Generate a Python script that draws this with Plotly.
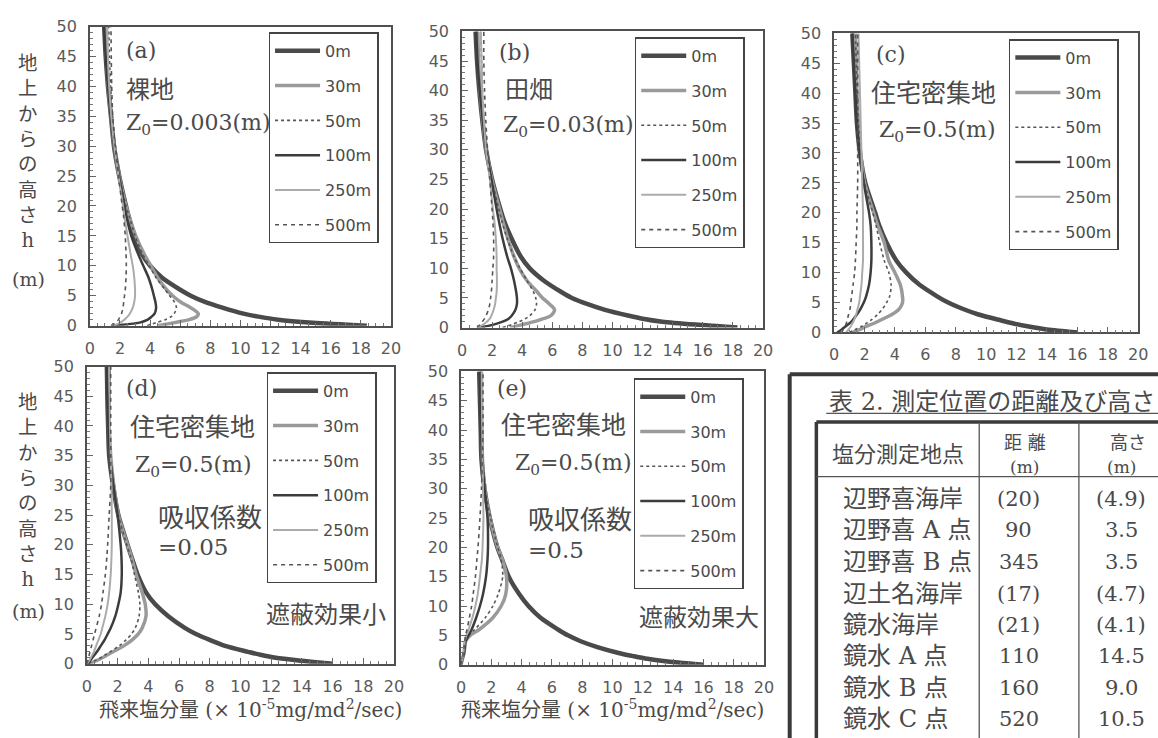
import plotly.graph_objects as go

# ---------------- data ----------------
H = [0, 0.5, 1, 1.5, 2, 3, 4, 5, 6, 8, 10, 12, 15, 18, 20, 25, 30, 35, 40, 45, 50]
DIST = ["0m", "30m", "50m", "100m", "250m", "500m"]
X_TICKS = [0, 2, 4, 6, 8, 10, 12, 14, 16, 18, 20]
Y_TICKS = [0, 5, 10, 15, 20, 25, 30, 35, 40, 45, 50]

# (a) bare land
A_0M = [18.4, 14.8, 12.5, 11.2, 10.2, 8.8, 7.6, 6.7, 6.0, 4.8, 4.0, 3.45, 2.95, 2.6, 2.4, 1.95, 1.6, 1.4, 1.2, 1.05, 0.95]
A_30M = [4.5, 5.6, 6.6, 7.1, 7.2, 6.7, 6.0, 5.5, 5.1, 4.5, 4.05, 3.6, 3.05, 2.65, 2.4, 1.95, 1.62, 1.4, 1.22, 1.1, 1.05]
A_50M = [3.8, 4.4, 5.0, 5.4, 5.6, 5.75, 5.6, 5.3, 5.0, 4.4, 3.95, 3.5, 3.0, 2.65, 2.4, 1.97, 1.7, 1.5, 1.38, 1.3, 1.25]
A_100M = [1.5, 3.3, 3.85, 4.1, 4.3, 4.4, 4.35, 4.25, 4.15, 3.9, 3.55, 3.2, 2.75, 2.45, 2.3, 1.93, 1.6, 1.38, 1.2, 1.05, 0.95]
A_250M = [1.6, 2.0, 2.3, 2.5, 2.65, 2.85, 2.95, 3.0, 3.0, 2.95, 2.85, 2.7, 2.5, 2.3, 2.2, 1.9, 1.62, 1.42, 1.28, 1.2, 1.15]
A_500M = [1.4, 1.7, 1.9, 2.0, 2.1, 2.2, 2.25, 2.3, 2.35, 2.4, 2.42, 2.4, 2.35, 2.25, 2.15, 1.9, 1.68, 1.52, 1.45, 1.42, 1.4]

# (b) farmland
B_0M = [18.3, 15.5, 13.3, 12.0, 11.1, 9.5, 8.3, 7.3, 6.6, 5.4, 4.5, 3.9, 3.3, 2.8, 2.55, 2.0, 1.6, 1.35, 1.15, 1.0, 0.9]
B_30M = [3.2, 4.0, 4.8, 5.4, 5.9, 6.15, 5.8, 5.35, 5.0, 4.3, 3.8, 3.45, 3.05, 2.7, 2.5, 1.98, 1.6, 1.38, 1.2, 1.1, 1.05]
B_50M = [2.7, 3.3, 3.8, 4.2, 4.5, 4.85, 4.95, 4.9, 4.75, 4.3, 3.85, 3.45, 3.0, 2.65, 2.45, 1.98, 1.65, 1.45, 1.35, 1.3, 1.25]
B_100M = [1.1, 2.1, 2.7, 3.1, 3.3, 3.55, 3.65, 3.65, 3.6, 3.45, 3.25, 3.0, 2.7, 2.45, 2.3, 1.95, 1.6, 1.38, 1.18, 1.03, 0.95]
B_250M = [1.0, 1.4, 1.65, 1.85, 1.95, 2.1, 2.2, 2.25, 2.3, 2.32, 2.3, 2.3, 2.25, 2.15, 2.05, 1.85, 1.6, 1.45, 1.35, 1.3, 1.25]
B_500M = [1.0, 1.2, 1.35, 1.5, 1.6, 1.75, 1.85, 1.9, 1.95, 2.0, 2.05, 2.1, 2.1, 2.05, 2.0, 1.85, 1.7, 1.58, 1.5, 1.45, 1.45]

# (c) dense residential
C_0M = [16.0, 14.0, 12.8, 11.8, 11.0, 9.5, 8.4, 7.5, 6.8, 5.6, 4.75, 4.1, 3.45, 2.95, 2.7, 2.05, 1.7, 1.5, 1.4, 1.3, 1.2]
C_30M = [1.2, 1.7, 2.1, 2.6, 3.0, 3.8, 4.3, 4.5, 4.5, 4.35, 4.0, 3.6, 3.3, 2.85, 2.6, 2.0, 1.75, 1.6, 1.5, 1.45, 1.4]
C_50M = [1.0, 1.4, 1.8, 2.1, 2.4, 2.85, 3.2, 3.45, 3.65, 3.75, 3.6, 3.3, 3.0, 2.75, 2.55, 2.0, 1.75, 1.6, 1.5, 1.45, 1.4]
C_100M = [0.2, 0.5, 0.75, 1.0, 1.2, 1.5, 1.75, 1.95, 2.1, 2.3, 2.4, 2.45, 2.45, 2.4, 2.3, 1.95, 1.68, 1.5, 1.4, 1.3, 1.2]
C_250M = [0.8, 0.95, 1.1, 1.2, 1.3, 1.45, 1.55, 1.65, 1.7, 1.8, 1.85, 1.9, 1.9, 1.9, 1.9, 1.85, 1.8, 1.75, 1.7, 1.65, 1.6]
C_500M = [0.5, 0.6, 0.7, 0.8, 0.85, 0.95, 1.05, 1.1, 1.15, 1.25, 1.35, 1.4, 1.45, 1.5, 1.5, 1.55, 1.55, 1.55, 1.55, 1.55, 1.55]

# (d) dense residential, absorption 0.05
D_0M = [16.0, 14.0, 12.3, 11.3, 10.5, 9.0, 8.0, 7.1, 6.4, 5.3, 4.45, 3.85, 3.3, 2.9, 2.65, 2.05, 1.7, 1.45, 1.38, 1.33, 1.3]
D_30M = [0.1, 0.6, 1.0, 1.35, 1.7, 2.4, 2.95, 3.35, 3.6, 3.85, 3.8, 3.6, 3.2, 2.9, 2.65, 2.05, 1.75, 1.55, 1.45, 1.45, 1.45]
D_50M = [0.1, 0.5, 0.9, 1.2, 1.5, 2.1, 2.55, 2.9, 3.15, 3.4, 3.45, 3.35, 3.1, 2.85, 2.6, 2.05, 1.75, 1.55, 1.5, 1.5, 1.5]
D_100M = [0.05, 0.2, 0.35, 0.5, 0.65, 0.9, 1.15, 1.35, 1.55, 1.85, 2.05, 2.2, 2.27, 2.25, 2.2, 2.0, 1.72, 1.5, 1.4, 1.35, 1.3]
D_250M = [0.0, 0.15, 0.25, 0.35, 0.45, 0.6, 0.75, 0.9, 1.0, 1.2, 1.35, 1.45, 1.55, 1.6, 1.62, 1.62, 1.6, 1.55, 1.5, 1.48, 1.45]
D_500M = [0.0, 0.05, 0.1, 0.15, 0.2, 0.3, 0.4, 0.5, 0.6, 0.8, 0.95, 1.05, 1.2, 1.3, 1.35, 1.45, 1.55, 1.55, 1.55, 1.55, 1.55]

# (e) dense residential, absorption 0.5
E_0M = [16.0, 13.8, 12.3, 11.3, 10.4, 9.0, 7.9, 7.05, 6.4, 5.25, 4.45, 3.85, 3.15, 2.7, 2.4, 1.9, 1.55, 1.35, 1.3, 1.25, 1.2]
E_30M = [0.0, 0.05, 0.1, 0.15, 0.2, 0.25, 0.3, 0.6, 1.2, 2.1, 2.65, 2.95, 3.0, 2.72, 2.42, 1.92, 1.58, 1.42, 1.38, 1.36, 1.35]
E_50M = [0.0, 0.05, 0.1, 0.15, 0.2, 0.25, 0.3, 0.5, 0.9, 1.6, 2.1, 2.45, 2.75, 2.65, 2.42, 1.95, 1.6, 1.45, 1.4, 1.38, 1.35]
E_100M = [0.0, 0.05, 0.1, 0.15, 0.2, 0.25, 0.3, 0.5, 0.7, 1.0, 1.25, 1.45, 1.65, 1.75, 1.78, 1.75, 1.55, 1.4, 1.32, 1.28, 1.25]
E_250M = [0.0, 0.05, 0.1, 0.12, 0.15, 0.2, 0.25, 0.35, 0.5, 0.75, 0.95, 1.1, 1.25, 1.38, 1.42, 1.48, 1.45, 1.42, 1.4, 1.38, 1.37]
E_500M = [0.0, 0.05, 0.1, 0.12, 0.15, 0.2, 0.25, 0.3, 0.4, 0.55, 0.7, 0.8, 0.95, 1.05, 1.12, 1.25, 1.35, 1.4, 1.45, 1.45, 1.45]

# table 2
TABLE_TITLE = "表 2. 測定位置の距離及び高さ"
TABLE_HEAD = ["塩分測定地点", "距 離", "高さ", "(m)"]
SITES = ["辺野喜海岸", "辺野喜 A 点", "辺野喜 B 点", "辺土名海岸", "鏡水海岸", "鏡水 A 点", "鏡水 B 点", "鏡水 C 点"]
SITE_DIST = ["(20)", "90", "345", "(17)", "(21)", "110", "160", "520"]
SITE_HEIGHT = ["(4.9)", "3.5", "3.5", "(4.7)", "(4.1)", "14.5", "9.0", "10.5"]

# ---------------- layout helpers ----------------
W, HT = 1158, 738
def fx(px):
    return px / W
def fy(py):
    return 1 - py / HT

PANELS = [
    ("a", [A_0M, A_30M, A_50M, A_100M, A_250M, A_500M], (86, 391, 18, 325), (267, 24)),
    ("b", [B_0M, B_30M, B_50M, B_100M, B_250M, B_500M], (463, 768, 23, 327), (638, 29)),
    ("c", [C_0M, C_30M, C_50M, C_100M, C_250M, C_500M], (840, 1148, 25, 332), (1017, 31)),
    ("d", [D_0M, D_30M, D_50M, D_100M, D_250M, D_500M], (83, 394, 367, 672), (265, 373)),
    ("e", [E_0M, E_30M, E_50M, E_100M, E_250M, E_500M], (462, 769, 372, 673), (637, 379)),
]

STYLE = {
    "0m": dict(color="#4a4a4a", width=4.5, dash="solid"),
    "30m": dict(color="#9a9a9a", width=3.5, dash="solid"),
    "50m": dict(color="#555555", width=1.6, dash="dot"),
    "100m": dict(color="#3c3c3c", width=2.5, dash="solid"),
    "250m": dict(color="#ababab", width=2.0, dash="solid"),
    "500m": dict(color="#555555", width=1.6, dash="4px,4px"),
}

GRAY = "#5a5a5a"
SANS = "DejaVu Sans"
SERIF_JP = "DejaVu Serif, Noto Sans CJK JP"

fig = go.Figure()
layout = dict(
    width=W, height=HT, margin=dict(l=0, r=0, t=0, b=0),
    paper_bgcolor="white", plot_bgcolor="white",
    showlegend=True,
)

for i, (key, series, (x0, x1, y0, y1), (lx, ly)) in enumerate(PANELS):
    n = "" if i == 0 else str(i + 1)
    leg = "legend" + n
    for name, vals in zip(DIST, series):
        st = STYLE[name]
        fig.add_trace(go.Scatter(
            x=vals, y=H, mode="lines", name=name,
            line=dict(color=st["color"], width=st["width"], dash=st["dash"], shape="spline", smoothing=0.8),
            xaxis="x" + n, yaxis="y" + n, legend=leg, legendgroup=key + name,
            hoverinfo="skip",
        ))
    layout["xaxis" + n] = dict(
        domain=[fx(x0), fx(x1)], anchor="y" + n, range=[0, 20],
        tickvals=X_TICKS, ticks="inside", ticklen=6, tickcolor="#666",
        showline=True, mirror=True, linecolor="#505050", linewidth=1.5,
        showgrid=False, zeroline=False, ticklabelstandoff=7,
        tickfont=dict(family=SANS, size=16, color=GRAY),
        minor=dict(dtick=0.5, ticks="inside", ticklen=3, tickcolor="#777"),
    )
    layout["yaxis" + n] = dict(
        domain=[fy(y1), fy(y0)], anchor="x" + n, range=[0, 50],
        tickvals=Y_TICKS, ticks="inside", ticklen=6, tickcolor="#666",
        showline=True, mirror=True, linecolor="#505050", linewidth=1.5,
        showgrid=False, zeroline=False, ticklabelstandoff=8,
        tickfont=dict(family=SANS, size=16, color=GRAY),
        minor=dict(dtick=1, ticks="inside", ticklen=3, tickcolor="#777"),
    )
    layout[leg] = dict(
        x=fx(lx), y=fy(ly), xanchor="left", yanchor="top",
        bgcolor="white", bordercolor="#444", borderwidth=1.5,
        font=dict(family=SANS, size=16, color="#4a4a4a"),
        tracegroupgap=11, itemwidth=45,
    )

ann = []
def txt(px, py, s, size=22, family=SERIF_JP, xanchor="left", yanchor="middle", align="left", color="#4a4a4a"):
    ann.append(dict(x=fx(px), y=fy(py), xref="paper", yref="paper", text=s, showarrow=False,
                    xanchor=xanchor, yanchor=yanchor, align=align,
                    font=dict(family=family, size=size, color=color)))

# panel labels
txt(121, 43, "(a)"); txt(121, 83, "裸地", size=24); txt(121, 119, "Z<sub>0</sub>=0.003(m)")
txt(498, 45, "(b)"); txt(505, 83, "田畑", size=24); txt(503, 121, "Z<sub>0</sub>=0.03(m)")
txt(880, 47, "(c)"); txt(875, 87, "住宅密集地", size=25); txt(883, 126, "Z<sub>0</sub>=0.5(m)")
txt(121, 390, "(d)"); txt(125, 430, "住宅密集地", size=25); txt(130, 470, "Z<sub>0</sub>=0.5(m)")
txt(153, 522, "吸収係数", size=26); txt(153, 552, "=0.05", size=23); txt(262, 622, "遮蔽効果小", size=24)
txt(496, 390, "(e)"); txt(500, 428, "住宅密集地", size=25); txt(515, 468, "Z<sub>0</sub>=0.5(m)")
txt(528, 525, "吸収係数", size=26); txt(528, 555, "=0.5", size=23); txt(640, 625, "遮蔽効果大", size=24)

# y axis titles (vertical)
for top, mid in ((42, 277), (390, 618)):
    txt(23, top, "地<br>上<br>か<br>ら<br>の<br>高<br>さ<br>h", size=19.5, xanchor="center", yanchor="top", align="center")
    txt(24, mid, "(m)", size=19, xanchor="center")

# x axis titles
xt = "飛来塩分量 (× 10<sup>-5</sup>mg/md<sup>2</sup>/sec)"
txt(93, 718, xt, size=20)
txt(460, 718, xt, size=20)

# table
txt(833, 403, TABLE_TITLE, size=24)
txt(905, 457, TABLE_HEAD[0], size=22, xanchor="center")
txt(1033, 445, TABLE_HEAD[1], size=18, xanchor="center", yanchor="middle")
txt(1033, 470, TABLE_HEAD[3], size=17, xanchor="center", yanchor="middle")
txt(1117, 445, TABLE_HEAD[2], size=18, yanchor="middle")
txt(1131, 470, TABLE_HEAD[3], size=17, xanchor="center", yanchor="middle")
ROW_Y = [503, 535, 568, 600, 632, 664, 697, 729]
for ry, s, d, h in zip(ROW_Y, SITES, SITE_DIST, SITE_HEIGHT):
    txt(847, ry, s, size=24)
    txt(1027, ry, d, size=21, xanchor="center")
    txt(1131, ry, h, size=21, xanchor="center")

layout["annotations"] = ann

def line(xa, ya, xb, yb, w=1.2, c="#444"):
    return dict(type="line", xref="paper", yref="paper", x0=fx(xa), y0=fy(ya), x1=fx(xb), y1=fy(yb),
                line=dict(color=c, width=w))

shapes = [
    line(795, 375, 1170, 375, 4, "#3a3a3a"),
    line(795, 375, 795, 750, 4, "#3a3a3a"),
    line(832, 415, 1170, 415, 1.2, "#555"),
    line(822, 424, 1170, 424, 3.5, "#3a3a3a"),
    line(822, 424, 822, 750, 3.5, "#3a3a3a"),
    line(987, 424, 987, 750, 1.3, "#555"),
    line(1088, 424, 1088, 750, 1.3, "#555"),
    line(822, 480, 1170, 480, 1.3, "#555"),
]
layout["shapes"] = shapes

fig.update_layout(**layout)
fig.write_html("out.html")
